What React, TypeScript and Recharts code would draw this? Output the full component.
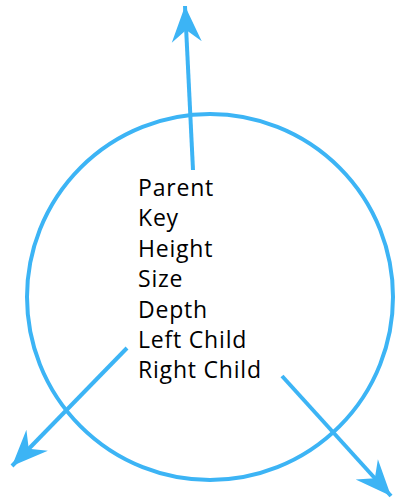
import { Scatter, ScatterChart, XAxis, YAxis } from 'recharts';

const BLUE = '#3cb4f5';

const fieldLabels = ['Parent', 'Key', 'Height', 'Size', 'Depth', 'Left Child', 'Right Child'];
const labelX = 138;
const labelTops = [190, 220, 251, 281, 312, 342, 372];

const nodeCircle = [{ x: 210, y: 297, r: 183 }];

const parentArrow = [
  { x: 193, y: 170, head: false },
  { x: 185, y: 6, head: true },
];
const leftArrow = [
  { x: 127, y: 348, head: false },
  { x: 12, y: 466, head: true },
];
const rightArrow = [
  { x: 282, y: 376, head: false },
  { x: 391, y: 496, head: true },
];

const labelPoints = fieldLabels.map((text, i) => ({ x: labelX, y: labelTops[i], text }));

function arrowShape(points: { x: number; y: number }[]) {
  const [a, b] = points;
  const angle = (Math.atan2(b.y - a.y, b.x - a.x) * 180) / Math.PI;
  return (props: any) => {
    if (!props.payload?.head) return <g />;
    return (
      <path
        d="M0,0 L-36,-15 L-24,0 L-36,15 Z"
        fill={BLUE}
        transform={`translate(${props.cx},${props.cy}) rotate(${angle})`}
      />
    );
  };
}

export default function App() {
  if (typeof document !== 'undefined') document.body.style.margin = '0';
  return (
    <ScatterChart width={400} height={500} margin={{ top: 0, right: 0, bottom: 0, left: 0 }}>
      <XAxis type="number" dataKey="x" domain={[0, 400]} hide />
      <YAxis type="number" dataKey="y" domain={[0, 500]} reversed hide />
      <Scatter
        data={nodeCircle}
        isAnimationActive={false}
        shape={(p: any) => (
          <circle cx={p.cx} cy={p.cy} r={p.payload.r} fill="none" stroke={BLUE} strokeWidth={4} />
        )}
      />
      {[parentArrow, leftArrow, rightArrow].map((arr, i) => (
        <Scatter
          key={i}
          data={arr}
          isAnimationActive={false}
          line={{ stroke: BLUE, strokeWidth: 4 }}
          shape={arrowShape(arr)}
        />
      ))}
      <Scatter
        data={labelPoints}
        isAnimationActive={false}
        shape={(p: any) => (
          <text
            x={p.cx}
            y={p.cy}
            dominantBaseline="middle"
            fontFamily="'Open Sans', sans-serif"
            fontSize={23}
            letterSpacing={0.8}
            fill="#000"
          >
            {p.payload.text}
          </text>
        )}
      />
    </ScatterChart>
  );
}
